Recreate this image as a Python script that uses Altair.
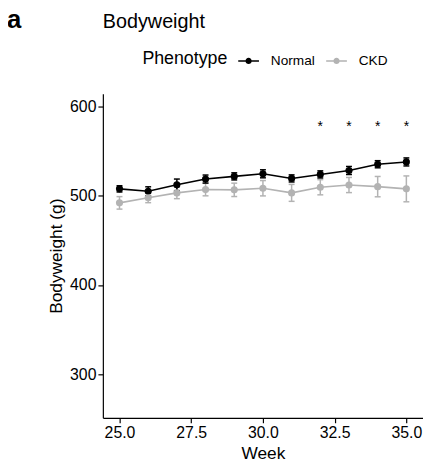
import altair as alt
import pandas as pd

# ---- data ----
weeks = list(range(25, 36))
normal_mean = [507.7, 505.0, 512.2, 518.7, 521.7, 524.6, 519.4, 523.9, 528.3, 535.3, 537.9]
normal_se = [3.5, 5.0, 6.5, 4.5, 4.0, 4.5, 4.0, 4.0, 4.5, 4.0, 4.5]
ckd_mean = [492.0, 497.7, 503.2, 506.9, 506.6, 508.4, 503.2, 509.5, 512.0, 510.2, 507.7]
ckd_se = [7.0, 5.5, 6.5, 7.0, 7.5, 8.6, 9.5, 8.5, 8.5, 11.4, 14.5]
groups = ["Normal", "CKD"]
group_colors = ["#000000", "#b3b3b3"]
sig_weeks = [32, 33, 34, 35]
sig_label = "*"
sig_y = 577
x_ticks = [25, 27.5, 30, 32.5, 35]
y_ticks = [300, 400, 500, 600]

rows = []
for g, means, ses in [("Normal", normal_mean, normal_se), ("CKD", ckd_mean, ckd_se)]:
    for w, m, s in zip(weeks, means, ses):
        rows.append({"Phenotype": g, "Week": w, "mean": m, "lo": m - s, "hi": m + s})
df = pd.DataFrame(rows)
sig_df = pd.DataFrame({"Week": sig_weeks, "y": [sig_y] * len(sig_weeks), "label": [sig_label] * len(sig_weeks)})
tag_df = pd.DataFrame({"t": ["a"]})

FONT = "Liberation Sans"
xscale = alt.Scale(domain=[24.42, 35.58], nice=False, zero=False)
yscale = alt.Scale(domain=[251, 614.4], nice=False, zero=False)
xaxis = alt.Axis(values=x_ticks, format=".1f", title="Week")
yaxis = alt.Axis(values=y_ticks, title="Bodyweight (g)")
cscale = alt.Scale(domain=groups, range=group_colors)

X = alt.X("Week:Q", scale=xscale, axis=xaxis)

# legend key: a short line with a dot on it (all filled shapes)
sym_path = ("M-1,-0.07L1,-0.07L1,0.07L-1,0.07Z"
            "M-0.3,0A0.3,0.3,0,1,1,0.3,0A0.3,0.3,0,1,1,-0.3,0Z")
leg = alt.Legend(
    title="Phenotype", orient="none", legendX=40, legendY=-44, direction="horizontal",
    titleOrient="left", symbolType=sym_path, symbolSize=441, symbolStrokeWidth=0,
    labelFontSize=13.8, titleFontSize=18, titlePadding=10, labelOffset=12,
    columnPadding=11, padding=0, titleFontWeight="normal", labelColor="#000000",
    titleColor="#000000", labelFont=FONT, titleFont=FONT, titleBaseline="middle",
    symbolOpacity=1,
)

base = alt.Chart(df)
layers = []
# error bars and lines, one group at a time (CKD below Normal)
for g, col in reversed(list(zip(groups, group_colors))):
    sub = base.transform_filter(alt.datum.Phenotype == g)
    layers.append(sub.mark_rule(strokeWidth=1.5, color=col).encode(
        x=X, y=alt.Y("lo:Q", scale=yscale, axis=yaxis), y2="hi:Q"))
    layers.append(sub.mark_tick(orient="horizontal", size=6, thickness=1.5, opacity=1, color=col).encode(
        x=X, y=alt.Y("lo:Q", scale=yscale, axis=yaxis)))
    layers.append(sub.mark_tick(orient="horizontal", size=6, thickness=1.5, opacity=1, color=col).encode(
        x=X, y=alt.Y("hi:Q", scale=yscale, axis=yaxis)))
    layers.append(sub.mark_line(strokeWidth=1.6, color=col).encode(
        x=X, y=alt.Y("mean:Q", scale=yscale, axis=yaxis)))

points = base.mark_point(filled=True, size=52, opacity=1, shape="circle").encode(
    x=X, y=alt.Y("mean:Q", scale=yscale, axis=yaxis),
    color=alt.Color("Phenotype:N", scale=cscale, legend=leg, sort=groups),
)
stars = alt.Chart(sig_df).mark_text(fontSize=14, font=FONT, baseline="middle", color="#000000").encode(
    x=X, y=alt.Y("y:Q", scale=yscale, axis=yaxis), text="label:N",
)
tag = alt.Chart(tag_df).mark_text(fontSize=26, fontWeight="bold", font=FONT, align="left",
                                  baseline="alphabetic", color="#000000").encode(
    x=alt.value(-97), y=alt.value(-66), text="t:N",
)

chart = alt.layer(*layers, points, stars, tag).properties(
    width=324, height=328,
    autosize=alt.AutoSizeParams(type="none"),
    padding={"left": 96, "top": 84, "right": 0, "bottom": 42},
    title=alt.TitleParams("Bodyweight", anchor="start", frame="group", fontSize=20,
                          fontWeight="normal", font=FONT, color="#000000",
                          baseline="alphabetic", offset=-41),
).configure_view(stroke=None).configure_axis(
    grid=False, domainColor="#000000", domainWidth=1.2, tickColor="#000000", tickWidth=1.2,
    tickSize=5, labelFont=FONT, labelFontSize=16, labelColor="#000000", labelPadding=2,
    titleFont=FONT, titleFontSize=17.5, titleColor="#000000", titleFontWeight="normal",
    titlePadding=4,
)

chart.save("out.html", embed_options={"renderer": "svg", "actions": False})
